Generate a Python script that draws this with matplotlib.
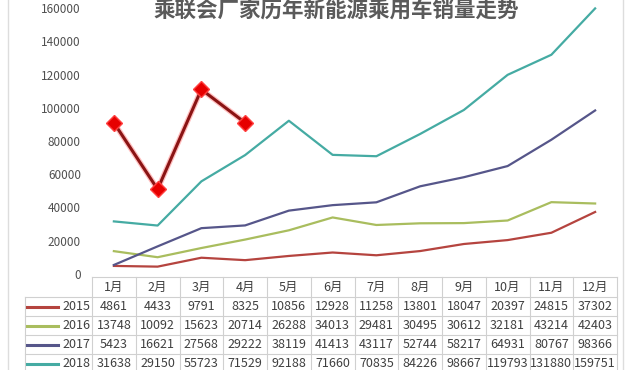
import matplotlib
matplotlib.use("Agg")
import matplotlib.pyplot as plt
from matplotlib.lines import Line2D

plt.rcParams['font.family'] = ['Noto Sans CJK SC', 'DejaVu Sans']

# Monthly NEV passenger-car sales by year
months = ["1月", "2月", "3月", "4月", "5月", "6月", "7月", "8月", "9月", "10月", "11月", "12月"]
years = ["2015", "2016", "2017", "2018"]
sales_2015 = [4861, 4433, 9791, 8325, 10856, 12928, 11258, 13801, 18047, 20397, 24815, 37302]
sales_2016 = [13748, 10092, 15623, 20714, 26288, 34013, 29481, 30495, 30612, 32181, 43214, 42403]
sales_2017 = [5423, 16621, 27568, 29222, 38119, 41413, 43117, 52744, 58217, 64931, 80767, 98366]
sales_2018 = [31638, 29150, 55723, 71529, 92188, 71660, 70835, 84226, 98667, 119793, 131880, 159751]
sales_2019 = [91000, 51000, 111000, 91000]
yticks = [0, 20000, 40000, 60000, 80000, 100000, 120000, 140000, 160000]

series = [sales_2015, sales_2016, sales_2017, sales_2018]
colors = ["#b5443f", "#a9bd5e", "#56568a", "#45aba3"]

W, H = 640, 370
fig = plt.figure(figsize=(W / 100, H / 100), dpi=100)
fig.patch.set_facecolor("white")


def fx(px):
    return px / W


def fy(py):
    return 1 - py / H


# plot area in pixel coordinates
left, right = 92, 617
top, bottom = 8, 274
ax = fig.add_axes([fx(left), fy(bottom), (right - left) / W, (bottom - top) / H])
ax.set_xlim(0.5, 12.5)
ax.set_ylim(0, 160000)
for s in ax.spines.values():
    s.set_visible(False)
ax.set_xticks([])
ax.set_yticks(yticks)
ax.set_yticklabels([str(v) for v in yticks], fontsize=8.5, color="#505050")
ax.tick_params(axis="y", length=0, pad=8)
ax.patch.set_alpha(0)

xs = list(range(1, 13))
for vals, c in zip(series, colors):
    ax.plot(xs, vals, color=c, lw=1.6, clip_on=False, solid_joinstyle="round")

x19 = xs[:len(sales_2019)]
ax.plot(x19, sales_2019, color="#ff2a2a", lw=4.0, alpha=0.3, clip_on=False)
ax.plot(x19, sales_2019, color="#8a1414", lw=2.2, clip_on=False)
ax.plot(x19, sales_2019, ls="none", marker="D", ms=8.5, color="#e60000",
        mec="#ff4040", mew=1.0, clip_on=False, zorder=5)

# title
fig.text(fx(336), fy(1), "乘联会厂家历年新能源乘用车销量走势", ha="center", va="top",
         fontsize=15.5, fontweight="bold", color="#5a5a5a")

# outer frame
grid_c = "#d0d0d0"
for xpix in (8, 623):
    fig.add_artist(Line2D([fx(xpix), fx(xpix)], [0, 1], color="#dddddd", lw=1.0))

# data table
col_w = (right - left) / 12
label_left = 25
head_top, head_bot = 277, 297
row_h = 19
row_tops = [head_bot + i * row_h for i in range(len(years) + 1)]

fig.add_artist(Line2D([fx(left), fx(right)], [fy(head_top)] * 2, color=grid_c, lw=0.8))
for yt in row_tops:
    fig.add_artist(Line2D([fx(label_left), fx(right)], [fy(yt)] * 2, color=grid_c, lw=0.8))
for i in range(13):
    xp = left + i * col_w
    fig.add_artist(Line2D([fx(xp)] * 2, [fy(head_top), 0], color=grid_c, lw=0.8))
fig.add_artist(Line2D([fx(label_left)] * 2, [fy(head_bot), 0], color=grid_c, lw=0.8))

txt_c = "#404040"
for i, m in enumerate(months):
    fig.text(fx(left + (i + 0.5) * col_w), fy((head_top + head_bot) / 2), m,
             ha="center", va="center", fontsize=9, color=txt_c)

for r, (yr, vals, c) in enumerate(zip(years, series, colors)):
    yc = row_tops[r] + row_h / 2
    fig.add_artist(Line2D([fx(27), fx(58)], [fy(yc)] * 2, color=c, lw=2.2))
    fig.text(fx(90), fy(yc), yr, ha="right", va="center", fontsize=9, color=txt_c)
    for i, v in enumerate(vals):
        fig.text(fx(left + (i + 0.5) * col_w), fy(yc), str(v),
                 ha="center", va="center", fontsize=9, color=txt_c)

fig.savefig("out.png", dpi=100, facecolor="white")
